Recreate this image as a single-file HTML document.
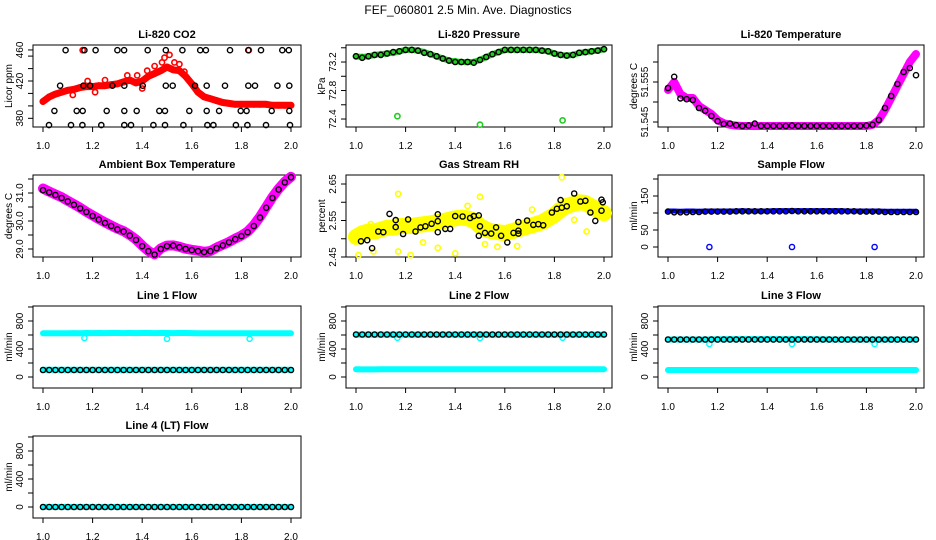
<!DOCTYPE html>
<html><head><meta charset="utf-8"><style>
html,body{margin:0;padding:0;background:#fff;}
svg{display:block;font-family:"Liberation Sans",sans-serif;}
</style></head><body>
<svg id="fig" width="936" height="540" viewBox="0 0 936 540" xmlns="http://www.w3.org/2000/svg">
<rect x="0" y="0" width="936" height="540" fill="#fff"/>
<text x="468" y="14" text-anchor="middle" font-size="12">FEF_060801  2.5 Min. Ave. Diagnostics</text>
</svg>
<script>
const xGrid = [1.000,1.025,1.050,1.075,1.100,1.125,1.150,1.175,1.200,1.225,1.250,1.275,1.300,1.325,1.350,1.375,1.400,1.425,1.450,1.475,1.500,1.525,1.550,1.575,1.600,1.625,1.650,1.675,1.700,1.725,1.750,1.775,1.800,1.825,1.850,1.875,1.900,1.925,1.950,1.975,2.000];
const xTicks = [1.0,1.2,1.4,1.6,1.8,2.0];
const xTickLabels = ["1.0","1.2","1.4","1.6","1.8","2.0"];
const outlierX = [1.167,1.5,1.833];

const co2Red = [398,403,406,408,410,411,413,414,414,415,415,416,417,419,421,418,420,425,428,431,435,432,431,425,417,408,403,401,399,397,396,395,395,395,395,395,395,394,394,394,394];
const co2RedExtraX = [1.18,1.25,1.34,1.40,1.45,1.49,1.51,1.53,1.55,1.48,1.42,1.38,1.21,1.12,1.57,1.16,1.83];
const co2RedExtraY = [420,421,426,412,436,445,448,440,438,440,431,426,408,405,430,453,453];
const co2BlackX = [1.091,1.167,1.212,1.300,1.327,1.422,1.495,1.562,1.634,1.657,1.754,1.828,1.879,1.965,1.991,
 1.069,1.163,1.190,1.280,1.328,1.402,1.495,1.523,1.613,1.660,1.734,1.828,1.855,1.945,1.993,
 1.046,1.136,1.160,1.257,1.328,1.378,1.469,1.492,1.590,1.660,1.710,1.797,1.821,1.922,1.993,
 1.024,1.113,1.159,1.235,1.328,1.355,1.445,1.492,1.566,1.663,1.687,1.778,1.824,1.899,1.996];
const co2BlackY = [453,453,453,453,453,453,453,453,453,453,453,453,453,453,453,
 415,415,415,415,415,415,415,415,415,415,415,415,415,415,415,
 388,388,388,388,388,388,388,388,388,388,388,388,388,388,388,
 372.7,372.7,372.7,372.7,372.7,372.7,372.7,372.7,372.7,372.7,372.7,372.7,372.7,372.7,372.7];

const pressGreen = [73.28,73.27,73.28,73.30,73.31,73.32,73.33,73.35,73.37,73.37,73.36,73.34,73.31,73.28,73.25,73.22,73.21,73.20,73.20,73.20,73.23,73.27,73.31,73.34,73.37,73.37,73.37,73.37,73.37,73.37,73.36,73.35,73.32,73.30,73.29,73.30,73.33,73.34,73.35,73.36,73.38];
const pressBlack = [73.28,73.26,73.28,73.30,73.30,73.32,73.34,73.35,73.37,73.37,73.36,73.33,73.31,73.28,73.25,73.22,73.20,73.20,73.20,73.19,73.23,73.27,73.31,73.34,73.37,73.37,73.37,73.37,73.37,73.37,73.36,73.35,73.32,73.30,73.29,73.30,73.33,73.34,73.35,73.36,73.38];
const pressOutY = [72.44,72.32,72.38];

const liTempMag = [51.553,51.555,51.552,51.551,51.551,51.549,51.548,51.547,51.5455,51.5447,51.5443,51.5441,51.544,51.544,51.544,51.544,51.544,51.544,51.544,51.544,51.544,51.544,51.544,51.544,51.544,51.544,51.544,51.544,51.544,51.544,51.544,51.544,51.544,51.5443,51.5455,51.548,51.551,51.554,51.557,51.560,51.562];
const liTempBlack = [51.5535,51.5563,51.5509,51.5507,51.5505,51.5485,51.5478,51.5465,51.5452,51.5445,51.5446,51.5442,51.544,51.5441,51.5446,51.544,51.544,51.544,51.544,51.544,51.5441,51.544,51.544,51.544,51.544,51.544,51.544,51.544,51.544,51.544,51.544,51.544,51.5441,51.5443,51.5455,51.5485,51.5515,51.5545,51.5575,51.5585,51.5567];

const ambMag = [31.16,31.05,30.95,30.85,30.72,30.60,30.47,30.33,30.20,30.07,29.95,29.84,29.73,29.64,29.50,29.34,29.12,28.93,28.81,29.02,29.12,29.13,29.08,29.01,28.97,28.94,28.90,28.93,29.05,29.15,29.25,29.37,29.48,29.62,29.85,30.15,30.50,30.85,31.15,31.40,31.58];
const ambBlack = [31.10,31.02,30.93,30.82,30.70,30.58,30.45,30.32,30.18,30.05,29.93,29.82,29.70,29.62,29.48,29.32,29.10,28.92,28.80,29.00,29.10,29.12,29.06,29.00,28.96,28.92,28.89,28.92,29.03,29.13,29.24,29.35,29.46,29.60,29.82,30.12,30.47,30.82,31.12,31.38,31.56];

const rhYellow = [2.505,2.515,2.52,2.52,2.525,2.53,2.53,2.535,2.535,2.535,2.538,2.54,2.542,2.545,2.548,2.552,2.556,2.558,2.556,2.55,2.535,2.525,2.52,2.518,2.515,2.52,2.525,2.53,2.535,2.54,2.545,2.555,2.565,2.58,2.59,2.595,2.6,2.598,2.588,2.578,2.57];
const rhYellowExtraX = [1.17,1.5,1.83,1.01,1.07,1.17,1.22,1.33,1.40,1.57,1.65,1.93,1.06,1.45,1.71,1.27,1.52,1.88];
const rhYellowExtraY = [2.623,2.615,2.668,2.455,2.465,2.465,2.455,2.475,2.46,2.478,2.48,2.52,2.54,2.59,2.58,2.49,2.485,2.552];
const rhBlackX = [1.02,1.045,1.065,1.09,1.11,1.135,1.16,1.16,1.19,1.21,1.24,1.26,1.28,1.305,1.33,1.33,1.33,1.36,1.38,1.40,1.43,1.46,1.475,1.495,1.495,1.5,1.52,1.545,1.565,1.585,1.61,1.635,1.655,1.655,1.655,1.69,1.715,1.735,1.755,1.79,1.81,1.825,1.83,1.85,1.88,1.905,1.925,1.945,1.965,1.99,1.995,1.99];
const rhBlackY = [2.493,2.496,2.474,2.52,2.518,2.568,2.532,2.551,2.513,2.553,2.52,2.531,2.534,2.541,2.518,2.567,2.548,2.527,2.527,2.562,2.561,2.557,2.562,2.564,2.508,2.534,2.516,2.514,2.531,2.508,2.49,2.516,2.546,2.522,2.514,2.55,2.538,2.54,2.537,2.572,2.582,2.606,2.585,2.589,2.624,2.602,2.604,2.572,2.549,2.607,2.6,2.577];

const sampleBlue = [106,106,105,106,106,105,106,106,106,106,106,106,107,106,106,106,106,107,107,107,107,107,107,107,107,107,107,107,107,106,106,106,106,106,106,105,105,105,105,105,105];
const sampleBlack = [104,102,102,102,103,103,104,104,104,104,104,105,105,105,105,105,105,105,105,105,106,105,105,105,105,105,105,105,105,105,105,104,104,104,104,103,103,103,103,103,103];
const sampleOutY = [0,0,0];

const line1Upper = [625,625,626,625,626,627,626,628,627,628,627,628,628,627,628,627,628,628,627,628,628,627,628,628,627,626,626,625,626,625,625,626,625,625,626,625,625,626,625,625,625];
const line1Lower = [105,105,105,105,105,105,105,105,105,105,105,105,105,105,105,105,105,105,105,105,105,105,105,105,105,105,105,105,105,105,105,105,105,105,105,105,105,105,105,105,105];
const line1Black = [100,100,100,100,100,100,100,100,100,100,100,100,100,100,100,100,100,100,100,100,100,100,100,100,100,100,100,100,100,100,100,100,100,100,100,100,100,100,100,100,100];
const line1OutY = [557,545,545];

const line2Upper = [605,605,605,604,605,605,605,606,605,605,606,605,605,605,606,605,605,605,605,605,606,605,604,605,605,605,605,605,605,605,605,605,605,605,605,605,605,605,605,605,605];
const line2Lower = [110,108,108,109,110,110,110,110,110,110,110,110,110,110,110,110,110,110,110,110,110,110,110,110,110,110,110,110,110,110,110,110,110,110,110,110,110,110,110,110,112];
const line2Black = [607,607,607,607,607,607,607,607,607,607,607,607,607,607,607,607,607,607,607,607,607,607,607,607,607,607,607,607,607,607,607,607,607,607,607,607,607,607,607,607,607];
const line2OutY = [560,555,560];

const line3Upper = [535,535,535,535,535,535,536,537,540,540,541,540,541,542,541,540,541,542,541,540,541,542,541,540,538,537,537,536,536,535,535,535,535,535,535,535,535,535,535,535,535];
const line3Lower = [100,100,100,100,100,100,100,100,100,100,100,100,100,100,100,100,100,100,100,100,100,100,100,100,100,100,100,100,100,100,100,100,100,100,100,100,100,100,100,100,100];
const line3Black = [535,535,535,535,535,535,535,535,535,535,535,535,535,535,535,535,535,535,535,535,535,535,535,535,535,535,535,535,535,535,535,535,535,535,535,535,535,535,535,535,535];
const line3OutY = [471,470,470];

const line4Cyan = [0,0,0,0,0,0,0,0,0,0,0,0,0,0,0,0,0,0,0,0,0,0,0,0,0,0,0,0,0,0,0,0,0,0,0,0,0,0,0,0,0];
const line4Black = [0,0,0,0,0,0,0,0,0,0,0,0,0,0,0,0,0,0,0,0,0,0,0,0,0,0,0,0,0,0,0,0,0,0,0,0,0,0,0,0,0];

const flowTicks = [0,200,400,600,800,1000];
const flowLabels = ["0","","400","","800",""];

const NS = "http://www.w3.org/2000/svg";
const svg = document.getElementById("fig");
const colL = [33,346,658];
const colW = [268,266,266];
const rowT = [45,175,306,436];
const H = 82;

function mk(tag, attrs, parent){
  const e = document.createElementNS(NS, tag);
  for (const k in attrs) e.setAttribute(k, attrs[k]);
  (parent||svg).appendChild(e);
  return e;
}

function makePanel(name, title, ylabel, col, row, ylo, yhi, yTicks, yLabels){
  const L = colL[col], W = colW[col], T = rowT[row];
  const g = mk("g", {});
  
  
  const p = {
    g: g,
    xs: v => L + 10 + (v - 1) * 248,
    ys: v => T + H - (v - ylo) / (yhi - ylo) * H
  };
  const t = mk("text", {x: L + W/2, y: T - 7, "text-anchor": "middle", "font-size": 11, "font-weight": "bold"}, g);
  
  
  t.textContent = title;
  const box = mk("rect", {x: L, y: T, width: W, height: H, fill: "none", stroke: "#000", "stroke-width": 1}, g);
  
  
  const xa = mk("g", {}, g);
  
  
  mk("line", {x1: p.xs(1), x2: p.xs(2), y1: T + H, y2: T + H, stroke: "#000"}, xa);
  xTicks.forEach((v, i) => {
    mk("line", {x1: p.xs(v), x2: p.xs(v), y1: T + H, y2: T + H + 5, stroke: "#000"}, xa);
    const lb = mk("text", {x: p.xs(v), y: T + H + 22, "text-anchor": "middle", "font-size": 10}, xa);
    
    
    lb.textContent = xTickLabels[i];
  });
  const ya = mk("g", {}, g);
  
  
  yTicks.forEach((v, i) => {
    const yy = p.ys(v);
    mk("line", {x1: L - 5, x2: L, y1: yy, y2: yy, stroke: "#000"}, ya);
    if (yLabels[i]) {
      const lb = mk("text", {x: 0, y: 0, "text-anchor": "middle", "font-size": 10, transform: "translate(" + (L - 10) + "," + yy + ") rotate(-90)"}, ya);
      
      
      lb.textContent = yLabels[i];
    }
  });
  const yt = mk("text", {x: 0, y: 0, "text-anchor": "middle", "font-size": 10, transform: "translate(" + (L - 21) + "," + (T + H/2) + ") rotate(-90)"}, g);
  
  
  yt.textContent = ylabel;
  return p;
}

function band(p, xsArr, ysArr, color, w, nm){
  const pts = xsArr.map((x, i) => p.xs(x).toFixed(1) + "," + p.ys(ysArr[i]).toFixed(1)).join(" ");
  const pl = mk("polyline", {points: pts, fill: "none", stroke: color, "stroke-width": w, "stroke-linejoin": "round", "stroke-linecap": "round"}, p.g);
  
  
}
function pts(p, xsArr, ysArr, color, nm, sw){
  const gg = mk("g", {fill: "none", stroke: color, "stroke-width": sw || 1.4}, p.g);
  
  
  xsArr.forEach((x, i) => {
    const c = mk("circle", {cx: p.xs(x).toFixed(1), cy: p.ys(ysArr[i]).toFixed(1), r: 2.6}, gg);
    
    
  });
}

let p;
p = makePanel("co2", "Li-820 CO2", "Licor ppm", 0, 0, 370.7, 458.6, [380,393.3,406.7,420,433.3,446.7,453.3], ["380","","","420","","","460"]);
band(p, xGrid, co2Red, "#ff0000", 7, "co2-red-band");
pts(p, xGrid, co2Red, "#ff0000", "co2-red-series", 1.6);
pts(p, co2RedExtraX, co2RedExtraY, "#ff0000", "co2-red-scatter", 1.6);
pts(p, co2BlackX, co2BlackY, "#000", "co2-black-series");

p = makePanel("pressure", "Li-820 Pressure", "kPa", 1, 0, 72.288, 73.439, [72.4,72.6,72.8,73.0,73.2,73.4], ["72.4","","72.8","","73.2",""]);
band(p, xGrid, pressGreen, "#22cc22", 6, "pressure-green-band");
pts(p, xGrid, pressGreen, "#22cc22", "pressure-green-series", 1.6);
pts(p, outlierX, pressOutY, "#22cc22", "pressure-green-outliers", 1.6);
pts(p, xGrid, pressBlack, "#000", "pressure-black-series");

p = makePanel("licor-temp", "Li-820 Temperature", "degrees C", 2, 0, 51.54375, 51.56425, [51.545,51.55,51.555,51.56], ["51.545","","51.555",""]);
band(p, xGrid, liTempMag, "#ff00ff", 8, "licor-temp-magenta-band");
pts(p, xGrid, liTempMag, "#ff00ff", "licor-temp-magenta-series", 1.6);
pts(p, xGrid, liTempBlack, "#000", "licor-temp-black-series");

p = makePanel("ambient", "Ambient Box Temperature", "degrees C", 0, 1, 28.714, 31.643, [29,29.5,30,30.5,31,31.5], ["29.0","","30.0","","31.0",""]);
band(p, xGrid, ambMag, "#ff00ff", 10, "ambient-magenta-band");
pts(p, xGrid, ambBlack, "#000", "ambient-black-series");

p = makePanel("rh", "Gas Stream RH", "percent", 1, 1, 2.45, 2.6747, [2.45,2.5,2.55,2.6,2.65], ["2.45","","2.55","","2.65"]);
band(p, xGrid, rhYellow, "#ffff00", 16, "rh-yellow-band");
pts(p, xGrid, rhYellow, "#ffff00", "rh-yellow-series", 1.6);
pts(p, rhYellowExtraX, rhYellowExtraY, "#ffff00", "rh-yellow-scatter", 1.6);
pts(p, rhBlackX, rhBlackY, "#000", "rh-black-series");

p = makePanel("sample-flow", "Sample Flow", "ml/min", 2, 1, -29.4, 211.8, [0,50,100,150,200], ["0","50","","150",""]);
band(p, xGrid, sampleBlue, "#0000ff", 5, "sample-blue-band");
pts(p, outlierX, sampleOutY, "#0000ff", "sample-blue-outliers", 1.4);
pts(p, xGrid, sampleBlack, "#000", "sample-black-series");

p = makePanel("line1", "Line 1 Flow", "ml/min", 0, 2, -157, 1014, flowTicks, flowLabels);
band(p, xGrid, line1Upper, "#00ffff", 6, "line1-cyan-upper-band");
pts(p, outlierX, line1OutY, "#00ffff", "line1-cyan-outliers", 1.4);
band(p, xGrid, line1Lower, "#00ffff", 6, "line1-cyan-lower-band");
pts(p, xGrid, line1Black, "#000", "line1-black-series");

p = makePanel("line2", "Line 2 Flow", "ml/min", 1, 2, -157, 1014, flowTicks, flowLabels);
band(p, xGrid, line2Upper, "#00ffff", 6, "line2-cyan-upper-band");
pts(p, outlierX, line2OutY, "#00ffff", "line2-cyan-outliers", 1.4);
band(p, xGrid, line2Lower, "#00ffff", 6, "line2-cyan-lower-band");
pts(p, xGrid, line2Black, "#000", "line2-black-series");

p = makePanel("line3", "Line 3 Flow", "ml/min", 2, 2, -157, 1014, flowTicks, flowLabels);
band(p, xGrid, line3Upper, "#00ffff", 6, "line3-cyan-upper-band");
pts(p, outlierX, line3OutY, "#00ffff", "line3-cyan-outliers", 1.4);
band(p, xGrid, line3Lower, "#00ffff", 6, "line3-cyan-lower-band");
pts(p, xGrid, line3Black, "#000", "line3-black-series");

p = makePanel("line4", "Line 4 (LT) Flow", "ml/min", 0, 3, -157, 1014, flowTicks, flowLabels);
band(p, xGrid, line4Cyan, "#00ffff", 6, "line4-cyan-band");
pts(p, xGrid, line4Black, "#000", "line4-black-series");
</script>
</body></html>
